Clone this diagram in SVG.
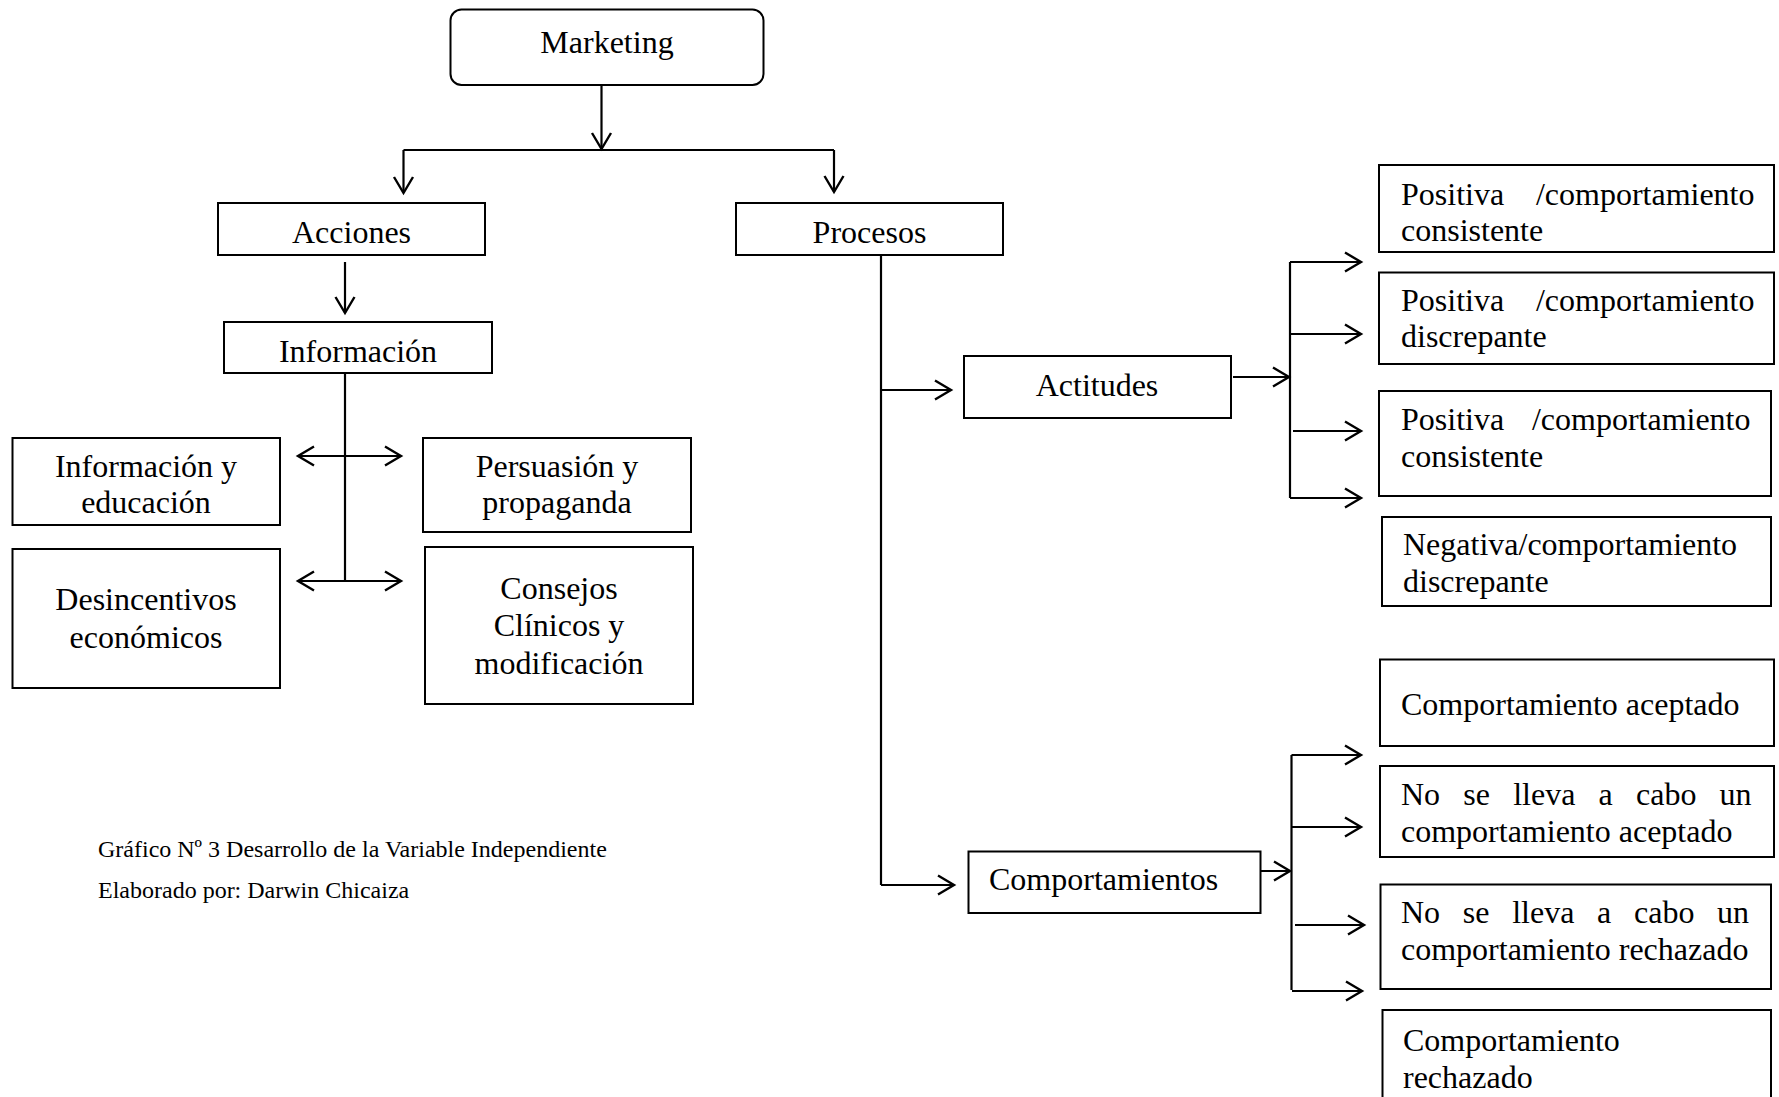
<svg xmlns="http://www.w3.org/2000/svg" width="1779" height="1097" viewBox="0 0 1779 1097">
  <style>
    .box { fill: #ffffff; stroke: #000000; stroke-width: 2; }
    .t { font-family: "Liberation Serif", "Times New Roman", serif; font-size: 32px; fill: #000000; }
    .c { text-anchor: middle; }
    .e { text-anchor: end; }
    .cap { font-family: "Liberation Serif", "Times New Roman", serif; font-size: 24px; fill: #000000; }
    .ln { stroke: #000000; stroke-width: 2.2; fill: none; }
    .ar { marker-end: url(#head); }
    .dbl { marker-start: url(#head); marker-end: url(#head); }
  </style>
  <defs>
    <marker id="head" markerUnits="userSpaceOnUse" viewBox="-20 -12 24 24" markerWidth="24" markerHeight="24" refX="0" refY="0" orient="auto-start-reverse">
      <path d="M-16,-9.5 L0,0 L-16,9.5" fill="none" stroke="#000000" stroke-width="2.4" stroke-linejoin="miter"/>
    </marker>
  </defs>
  <rect width="1779" height="1097" fill="#ffffff"/>

  <!-- connectors -->
  <g id="connectors">
    <line class="ln ar" x1="601.5" y1="85" x2="601.5" y2="149"/>
    <line class="ln" x1="403.5" y1="150" x2="834" y2="150"/>
    <line class="ln ar" x1="403.5" y1="150" x2="403.5" y2="193"/>
    <line class="ln ar" x1="834" y1="150" x2="834" y2="192"/>
    <line class="ln ar" x1="345" y1="262" x2="345" y2="313"/>
    <line class="ln" x1="345" y1="373" x2="345" y2="581"/>
    <line class="ln dbl" x1="298" y1="456" x2="401" y2="456"/>
    <line class="ln dbl" x1="298" y1="581" x2="401" y2="581"/>
    <line class="ln" x1="881" y1="255" x2="881" y2="885"/>
    <line class="ln ar" x1="881" y1="390" x2="951" y2="390"/>
    <line class="ln ar" x1="881" y1="885" x2="954" y2="885"/>
    <line class="ln ar" x1="1233" y1="377" x2="1289" y2="377"/>
    <line class="ln" x1="1290" y1="262" x2="1290" y2="498"/>
    <line class="ln ar" x1="1290" y1="262" x2="1361" y2="262"/>
    <line class="ln ar" x1="1290" y1="334" x2="1361" y2="334"/>
    <line class="ln ar" x1="1293" y1="431" x2="1361" y2="431"/>
    <line class="ln ar" x1="1290" y1="498" x2="1361" y2="498"/>
    <line class="ln ar" x1="1235" y1="871" x2="1290" y2="871"/>
    <line class="ln" x1="1291.5" y1="755" x2="1291.5" y2="990"/>
    <line class="ln ar" x1="1291.5" y1="755" x2="1361" y2="755"/>
    <line class="ln ar" x1="1291.5" y1="827" x2="1361" y2="827"/>
    <line class="ln ar" x1="1295" y1="925" x2="1364" y2="925"/>
    <line class="ln ar" x1="1292" y1="991" x2="1362" y2="991"/>
  </g>

  <g id="marketing">
    <rect class="box" x="450.5" y="9.5" width="313" height="75.5" rx="11"/>
    <text class="t c" x="607" y="53">Marketing</text>
  </g>

  <g id="acciones">
    <rect class="box" x="218" y="203" width="267" height="52"/>
    <text class="t c" x="351.5" y="243">Acciones</text>
  </g>

  <g id="procesos">
    <rect class="box" x="736" y="203" width="267" height="52"/>
    <text class="t c" x="869.5" y="243">Procesos</text>
  </g>

  <g id="informacion">
    <rect class="box" x="224" y="322" width="268" height="51"/>
    <text class="t c" x="358" y="362">Información</text>
  </g>

  <g id="informacion-educacion">
    <rect class="box" x="12.5" y="438" width="267.5" height="87"/>
    <text class="t c" x="146" y="477">Información y</text>
    <text class="t c" x="146" y="513">educación</text>
  </g>

  <g id="persuasion-propaganda">
    <rect class="box" x="423" y="438" width="268" height="94"/>
    <text class="t c" x="557" y="477">Persuasión y</text>
    <text class="t c" x="557" y="513">propaganda</text>
  </g>

  <g id="desincentivos">
    <rect class="box" x="12.5" y="549" width="267.5" height="139"/>
    <text class="t c" x="146" y="610">Desincentivos</text>
    <text class="t c" x="146" y="648">económicos</text>
  </g>

  <g id="consejos">
    <rect class="box" x="425" y="547" width="268" height="157"/>
    <text class="t c" x="559" y="599">Consejos</text>
    <text class="t c" x="559" y="636">Clínicos y</text>
    <text class="t c" x="559" y="674">modificación</text>
  </g>

  <g id="actitudes">
    <rect class="box" x="964" y="356" width="267" height="62"/>
    <text class="t c" x="1097" y="396">Actitudes</text>
  </g>

  <g id="comportamientos">
    <rect class="box" x="968.5" y="851.5" width="292" height="61.5"/>
    <text class="t" x="989" y="890">Comportamientos</text>
  </g>

  <g id="positiva-consistente-1">
    <rect class="box" x="1379" y="165" width="395" height="87"/>
    <text class="t" x="1401" y="205">Positiva</text>
    <text class="t e" x="1754.5" y="205">/comportamiento</text>
    <text class="t" x="1401" y="241">consistente</text>
  </g>

  <g id="positiva-discrepante">
    <rect class="box" x="1379" y="272.5" width="395" height="91.5"/>
    <text class="t" x="1401" y="311">Positiva</text>
    <text class="t e" x="1754.5" y="311">/comportamiento</text>
    <text class="t" x="1401" y="347">discrepante</text>
  </g>

  <g id="positiva-consistente-2">
    <rect class="box" x="1379" y="391" width="392" height="105"/>
    <text class="t" x="1401" y="430">Positiva</text>
    <text class="t e" x="1750.5" y="430">/comportamiento</text>
    <text class="t" x="1401" y="467">consistente</text>
  </g>

  <g id="negativa-discrepante">
    <rect class="box" x="1382" y="517" width="389" height="89"/>
    <text class="t" x="1403" y="555">Negativa/comportamiento</text>
    <text class="t" x="1403" y="592">discrepante</text>
  </g>

  <g id="comportamiento-aceptado">
    <rect class="box" x="1380" y="659.5" width="394" height="86.5"/>
    <text class="t" x="1401" y="715">Comportamiento aceptado</text>
  </g>

  <g id="no-aceptado">
    <rect class="box" x="1380" y="766" width="394" height="91"/>
    <text class="t" y="805"><tspan x="1401">No</tspan><tspan x="1463.3">se</tspan><tspan x="1513.2">lleva</tspan><tspan x="1598.6">a</tspan><tspan x="1636">cabo</tspan><tspan x="1719.6">un</tspan></text>
    <text class="t" x="1401" y="842">comportamiento aceptado</text>
  </g>

  <g id="no-rechazado">
    <rect class="box" x="1380.5" y="884.5" width="390.5" height="104.5"/>
    <text class="t" y="923"><tspan x="1401">No</tspan><tspan x="1462.8">se</tspan><tspan x="1512.2">lleva</tspan><tspan x="1597.1">a</tspan><tspan x="1634">cabo</tspan><tspan x="1717.1">un</tspan></text>
    <text class="t" x="1401" y="960">comportamiento rechazado</text>
  </g>

  <g id="comportamiento-rechazado">
    <rect class="box" x="1382.5" y="1010" width="388.5" height="100"/>
    <text class="t" x="1403" y="1051">Comportamiento</text>
    <text class="t" x="1403" y="1088">rechazado</text>
  </g>

  <g id="caption">
    <text class="cap" x="98" y="857">Gráfico Nº 3 Desarrollo de la Variable Independiente</text>
    <text class="cap" x="98" y="898">Elaborado por: Darwin Chicaiza</text>
  </g>
</svg>
